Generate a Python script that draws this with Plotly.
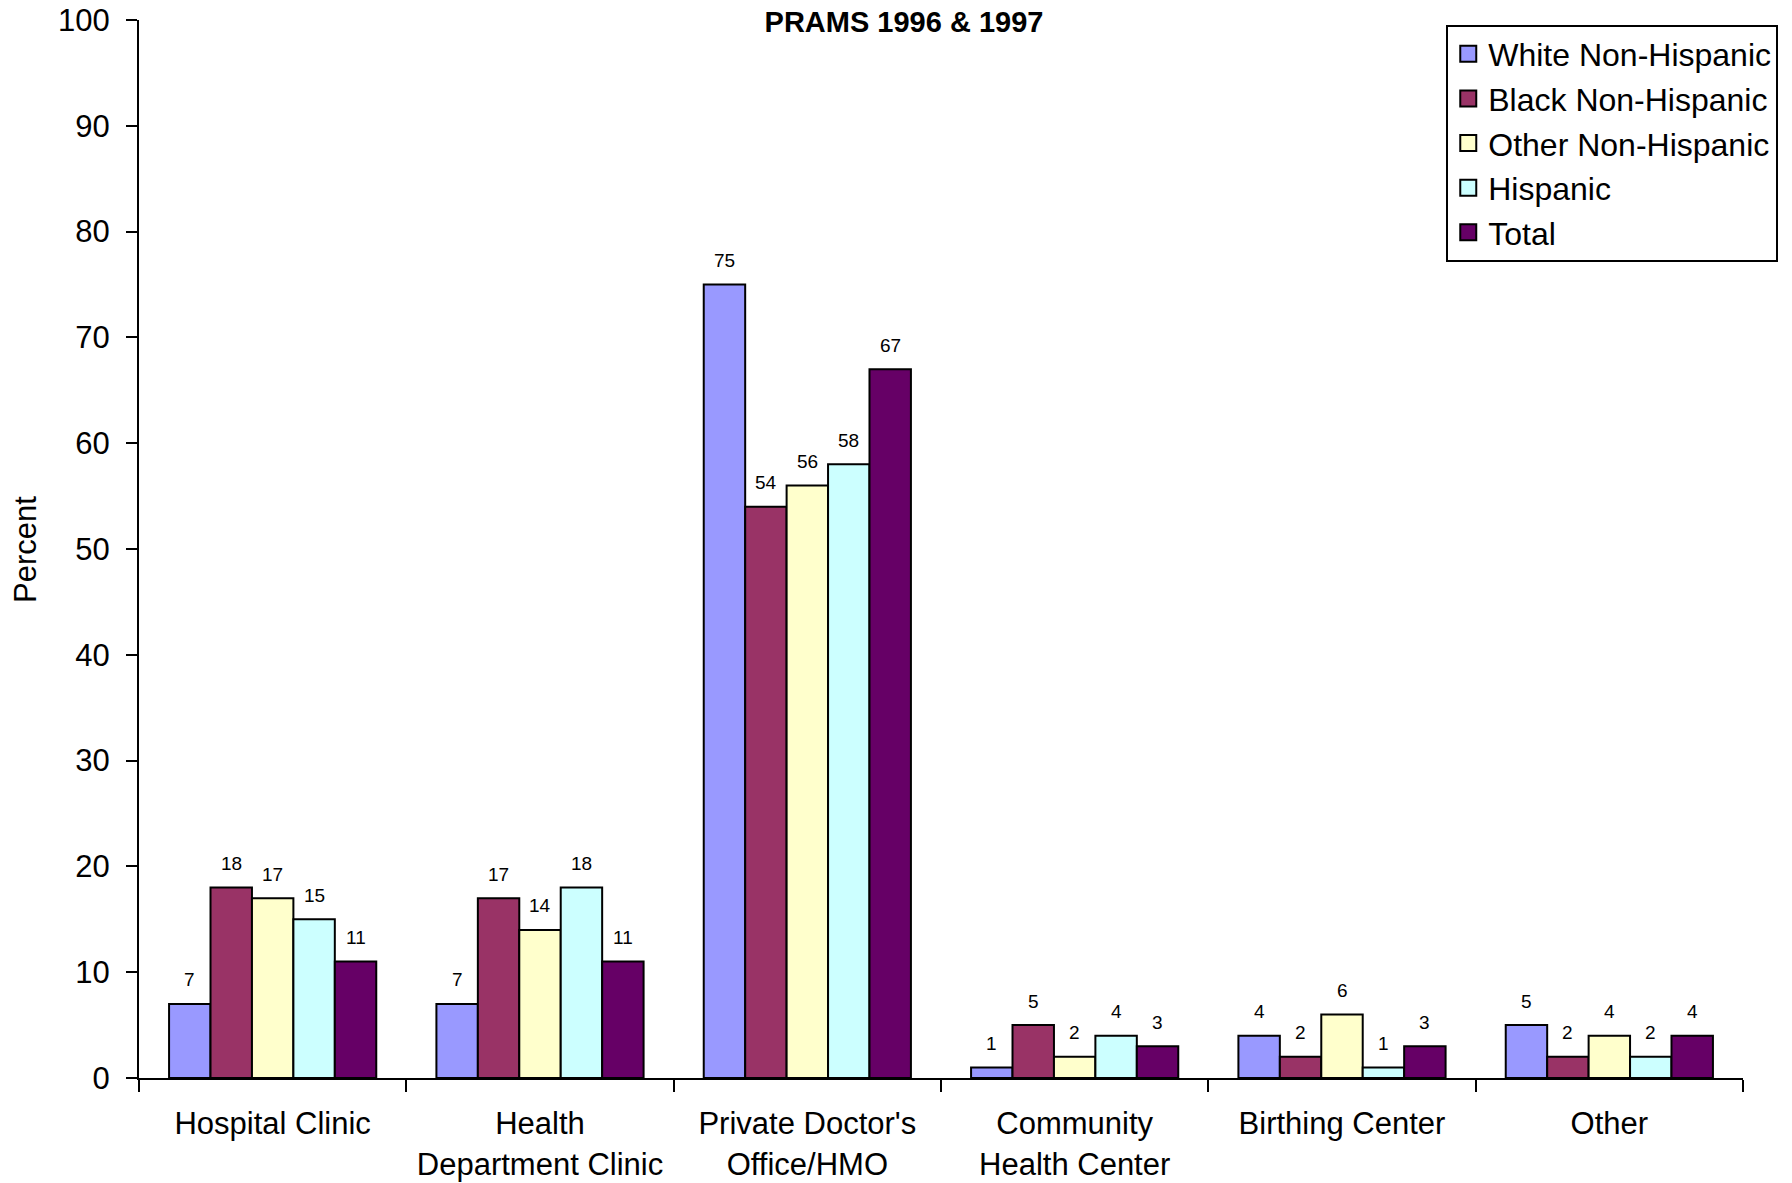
import plotly.graph_objects as go

categories = ["Hospital Clinic", "Health<br>Department Clinic", "Private Doctor's<br>Office/HMO",
              "Community<br>Health Center", "Birthing Center", "Other"]
series_names = ["White Non-Hispanic", "Black Non-Hispanic", "Other Non-Hispanic", "Hispanic", "Total"]
white = [7, 7, 75, 1, 4, 5]
black = [18, 17, 54, 5, 2, 2]
other = [17, 14, 56, 2, 6, 4]
hispanic = [15, 18, 58, 4, 1, 2]
total = [11, 11, 67, 3, 3, 4]
colors = ["#9999FF", "#993366", "#FFFFCC", "#CCFFFF", "#660066"]
y_ticks = list(range(0, 101, 10))

series = [white, black, other, hispanic, total]
FONT = "Liberation Sans, Arial, sans-serif"
bargap = 0.225
bw = (1 - bargap) / len(series)

fig = go.Figure()
annotations = []
for i, (name, vals, col) in enumerate(zip(series_names, series, colors)):
    fig.add_trace(go.Bar(
        name=name, x=categories, y=vals, showlegend=False,
        marker=dict(color=col, line=dict(color="black", width=2)),
    ))
    off = (i - (len(series) - 1) / 2) * bw
    for j, v in enumerate(vals):
        annotations.append(dict(
            x=j + off, y=v, xref="x", yref="y", text=str(v), showarrow=False,
            yanchor="middle", yshift=24, font=dict(size=19, color="black", family=FONT)))

# y-axis title
annotations.append(dict(
    x=-0.0711, y=0.5, xref="paper", yref="paper", text="Percent", showarrow=False,
    textangle=-90, xanchor="center", yanchor="middle",
    font=dict(size=31, family=FONT, color="black")))

# legend entries with larger square swatches
for name, col in zip(series_names, colors):
    fig.add_trace(go.Scatter(
        name=name, x=[None], y=[None], mode="markers", showlegend=True,
        marker=dict(symbol="square", size=18, color=col, line=dict(color="black", width=2)),
    ))

fig.update_layout(
    width=1792, height=1183,
    barmode="group", bargap=bargap, bargroupgap=0,
    paper_bgcolor="white", plot_bgcolor="white",
    margin=dict(l=139, r=49, t=20, b=105, autoexpand=False),
    font=dict(family=FONT, color="black", size=30),
    title=dict(text="<b>PRAMS 1996 & 1997</b>", x=904 / 1792, xanchor="center",
               y=1 - 22 / 1183, yref="container", yanchor="middle",
               font=dict(size=29, family=FONT, color="black")),
    legend=dict(x=0.815, xanchor="left", y=0.9957, yanchor="top",
                bordercolor="black", borderwidth=2, bgcolor="white",
                font=dict(size=32, family=FONT, color="black"),
                itemsizing="trace", traceorder="normal"),
    annotations=annotations,
    showlegend=True,
)
fig.update_xaxes(
    showline=True, linecolor="black", linewidth=2,
    ticks="outside", tickson="boundaries", ticklen=12, tickwidth=2, tickcolor="black",
    showgrid=False, ticklabelstandoff=17, ticklabeloverflow="allow",
    tickfont=dict(size=31, family=FONT, color="black"),
)
fig.update_yaxes(
    range=[0, 100], tickvals=y_ticks, showline=True, linecolor="black", linewidth=2,
    ticks="outside", ticklen=11, tickwidth=2, tickcolor="black",
    showgrid=False, zeroline=False, ticklabelstandoff=10, ticklabeloverflow="allow",
    tickfont=dict(size=31, family=FONT, color="black"),
)

fig.write_html("out.html", config={"displayModeBar": False},
               post_script="document.body.style.margin='0';")
